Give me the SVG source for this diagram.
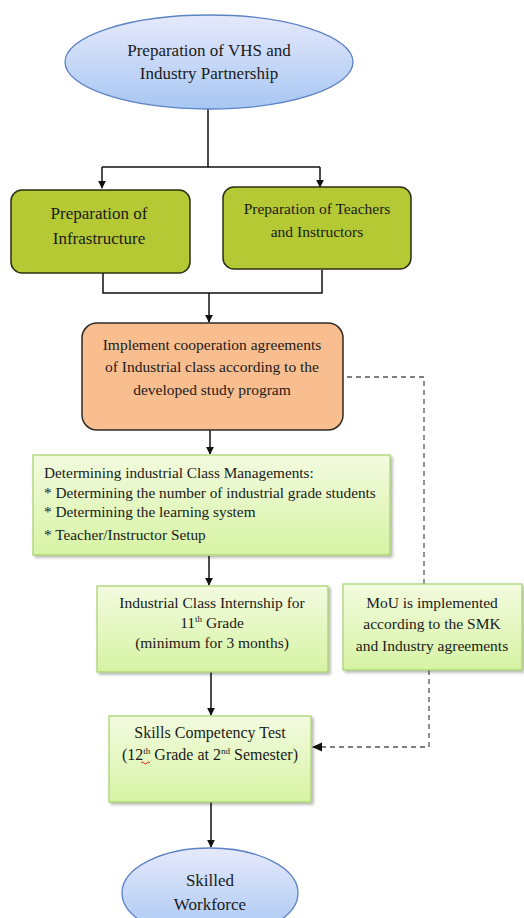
<svg xmlns="http://www.w3.org/2000/svg" width="524" height="918" viewBox="0 0 524 918" font-family="'Liberation Serif', 'DejaVu Serif', serif">
<style>
text{fill:#1a1a1a}
.c{text-anchor:middle}
.t17{font-size:17px}
.t16{font-size:16px}
.t15{font-size:15.5px}
.t14{font-size:15.3px}
.sup{font-size:9px}
.ln{fill:none;stroke:#111;stroke-width:1.5}
.dash{fill:none;stroke:#555;stroke-width:1.3;stroke-dasharray:5 4}
.olive{fill:#b4c934;stroke:#2a2f12;stroke-width:1.5}
.orange{fill:#f9be8f;stroke:#2f2a25;stroke-width:1.5}
.lg{fill:url(#lg);stroke:#a6d16a;stroke-width:1.2;filter:url(#sh)}
.ell{fill:url(#bl);stroke:#5c83c4;stroke-width:1.3}
</style>
<defs>
<linearGradient id="bl" x1="0" y1="0" x2="0" y2="1">
<stop offset="0" stop-color="#e6e9fb"/>
<stop offset="1" stop-color="#a7c7f3"/>
</linearGradient>
<linearGradient id="lg" x1="0" y1="0" x2="0" y2="1">
<stop offset="0" stop-color="#f3fbdf"/>
<stop offset="1" stop-color="#d6f3a4"/>
</linearGradient>
<filter id="sh" x="-5%" y="-5%" width="112%" height="115%">
<feDropShadow dx="2" dy="2" stdDeviation="1.5" flood-color="#000" flood-opacity="0.3"/>
</filter>
<marker id="ah" viewBox="0 0 10 10" refX="9" refY="5" markerWidth="8" markerHeight="8" markerUnits="userSpaceOnUse" orient="auto">
<path d="M0,0 L10,5 L0,10 z" fill="#111"/>
</marker>
</defs>

<g id="connectors">
<path class="ln" d="M208,108 V167 M102,167 H320"/>
<path class="ln" d="M102,167 V188" marker-end="url(#ah)"/>
<path class="ln" d="M320,167 V187" marker-end="url(#ah)"/>
<path class="ln" d="M103,273 V293 H322 V270"/>
<path class="ln" d="M209,293 V322" marker-end="url(#ah)"/>
<path class="ln" d="M210,430 V454" marker-end="url(#ah)"/>
<path class="ln" d="M209,556 V585" marker-end="url(#ah)"/>
<path class="ln" d="M211,672 V715" marker-end="url(#ah)"/>
<path class="ln" d="M211,802 V847" marker-end="url(#ah)"/>
<path class="dash" d="M347,377 H424 V584"/>
<path class="dash" d="M429,670 V747 H313"/>
<path d="M312,747 L322,742.5 L322,751.5 z" fill="#111"/>
</g>

<g id="n-vhs">
<ellipse class="ell" cx="209" cy="62" rx="144" ry="47"/>
<text class="c t17" x="209" y="56">Preparation of VHS and</text>
<text class="c t17" x="209" y="79">Industry Partnership</text>
</g>

<g id="n-infra">
<rect class="olive" x="11" y="190" width="179" height="83" rx="11"/>
<text class="c t17" x="99" y="219">Preparation of</text>
<text class="c t17" x="99" y="244">Infrastructure</text>
</g>

<g id="n-teachers">
<rect class="olive" x="223" y="187" width="188" height="82" rx="11"/>
<text class="c t15" x="317" y="214">Preparation of Teachers</text>
<text class="c t15" x="317" y="237">and Instructors</text>
</g>

<g id="n-implement">
<rect class="orange" x="82" y="323" width="261" height="107" rx="15"/>
<text class="c t15" x="212" y="350">Implement cooperation agreements</text>
<text class="c t15" x="212" y="372">of Industrial class according to the</text>
<text class="c t15" x="212" y="395">developed study program</text>
</g>

<g id="n-manage">
<rect class="lg" x="33" y="455" width="357" height="100"/>
<text class="t14" x="44" y="478">Determining industrial Class  Managements:</text>
<text class="t14" x="44" y="498">* Determining the number of industrial grade students</text>
<text class="t14" x="44" y="517">* Determining the learning system</text>
<text class="t14" x="44" y="540">* Teacher/Instructor Setup</text>
</g>

<g id="n-internship">
<rect class="lg" x="97" y="586" width="231" height="86"/>
<text class="c t15" x="212" y="608">Industrial Class Internship for</text>
<text class="c t15" x="212" y="628">11<tspan class="sup" dy="-6">th</tspan><tspan dy="6"> Grade</tspan></text>
<text class="c t15" x="212" y="648">(minimum for 3 months)</text>
</g>

<g id="n-mou">
<rect class="lg" x="343" y="584" width="179" height="86"/>
<text class="c t15" x="432" y="608">MoU is  implemented</text>
<text class="c t15" x="432" y="629">according to the SMK</text>
<text class="c t15" x="432" y="651">and Industry agreements</text>
</g>

<g id="n-skills">
<rect class="lg" x="109" y="716" width="202" height="86"/>
<text class="c t16" x="210" y="738">Skills Competency Test</text>
<text class="c t16" x="210" y="760">(12<tspan class="sup" dy="-6">th</tspan><tspan dy="6"> Grade at 2</tspan><tspan class="sup" dy="-6">nd</tspan><tspan dy="6"> Semester)</tspan></text>
<path d="M141,763 q1.5,-2 3,0 t3,0 t3,0" fill="none" stroke="#e02020" stroke-width="1"/>
</g>

<g id="n-skilled">
<ellipse class="ell" cx="210" cy="893" rx="88" ry="45"/>
<text class="c t17" x="210" y="886">Skilled</text>
<text class="c t17" x="210" y="910">Workforce</text>
</g>
</svg>
